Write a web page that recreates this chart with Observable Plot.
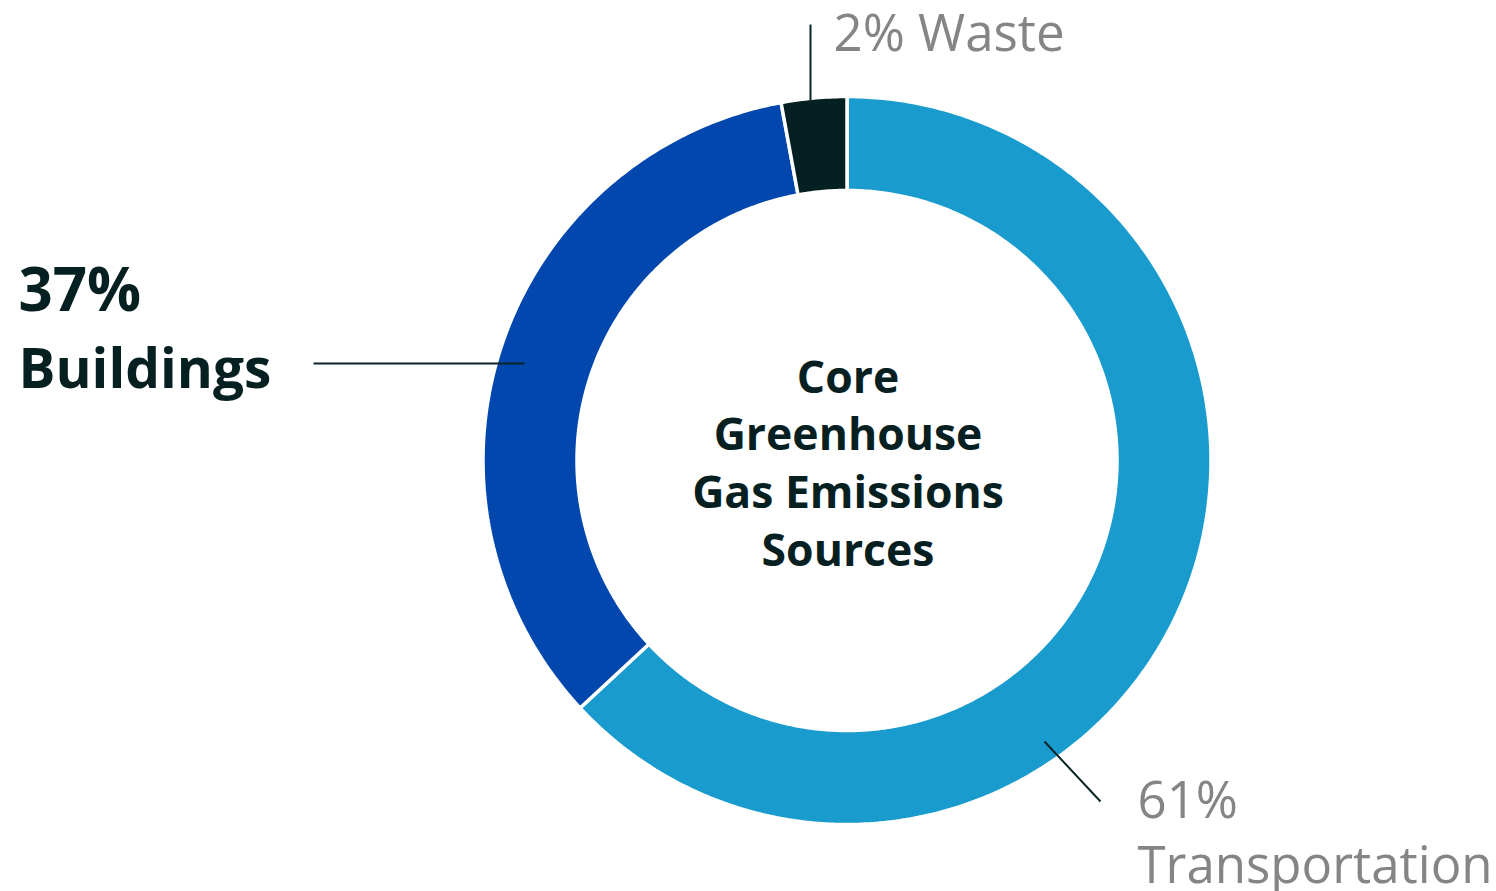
<!DOCTYPE html>
<html>
<head>
<meta charset="utf-8">
<script src="https://cdn.jsdelivr.net/npm/d3@7"></script>
<script src="https://cdn.jsdelivr.net/npm/@observablehq/plot@0.6"></script>
<style>
  html, body { margin: 0; padding: 0; background: #ffffff; }
  #chart { width: 1496px; height: 891px; overflow: hidden; }
</style>
</head>
<body>
<div id="chart"></div>
<script>
// ---- data ----
const categories = ["Transportation", "Buildings", "Waste"];
const shares = [63.1, 34.0, 2.9];            // drawn slice sizes
const labelPercents = ["61%", "37%", "2%"];  // printed labels
const colors = ["#1A9BCE", "#0247AD", "#042022"];
const centerTitle = ["Core", "Greenhouse", "Gas Emissions", "Sources"];

// ---- layout ----
const W = 1496, H = 891;
const cx = 846.5, cy = 460, R = 364, r = 270;

const pie = d3.pie().sort(null).value(d => d.value);
const arcs = pie(categories.map((c, i) => ({name: c, value: shares[i]})));

// polygon points for each ring segment (screen coordinates, angle clockwise from top)
const pt = (rad, a) => ({x: cx + rad * Math.sin(a), y: cy - rad * Math.cos(a)});
const ringPts = [];
for (const a of arcs) {
  const n = Math.max(8, Math.ceil((a.endAngle - a.startAngle) / 0.01));
  const pts = [];
  for (let k = 0; k <= n; k++) pts.push(pt(R, a.startAngle + (a.endAngle - a.startAngle) * k / n));
  for (let k = n; k >= 0; k--) pts.push(pt(r, a.startAngle + (a.endAngle - a.startAngle) * k / n));
  pts.push(pts[0]);
  for (const p of pts) ringPts.push({...p, name: a.data.name});
}

const leaders = [
  {x1: 810, y1: 24, x2: 810, y2: 100},
  {x1: 313, y1: 363, x2: 524, y2: 363},
  {x1: 1044, y1: 741, x2: 1100, y2: 801}
];

const grayLabels = [
  {text: labelPercents[2] + " " + categories[2], x: 833, y: 50},
  {text: labelPercents[0], x: 1137, y: 817},
  {text: categories[0], x: 1137, y: 882}
];
const pctLabel = [{text: labelPercents[1], x: 18, y: 310}];
const nameLabel = [{text: categories[1], x: 18, y: 387}];
const centerLines = centerTitle.map((t, i) => ({text: t, x: cx + 1, y: 392 + i * 57.7}));

const chart = Plot.plot({
  width: W, height: H,
  margin: 0,
  x: {domain: [0, W], range: [0, W], axis: null},
  y: {domain: [0, H], range: [0, H], axis: null},
  color: {domain: categories, range: colors},
  style: {background: "#ffffff", fontFamily: "'Open Sans', sans-serif"},
  marks: [
    Plot.line(ringPts, {x: "x", y: "y", z: "name", fill: "name", stroke: "#ffffff", strokeWidth: 3.5, curve: "linear", strokeLinejoin: "miter"}),
    Plot.link(leaders, {x1: "x1", y1: "y1", x2: "x2", y2: "y2", stroke: "#0a2528", strokeWidth: 2}),
    Plot.text(grayLabels, {x: "x", y: "y", text: "text", textAnchor: "start", lineAnchor: "bottom", fill: "#858585", fontSize: 51}),
    Plot.text(pctLabel, {x: "x", y: "y", text: "text", textAnchor: "start", lineAnchor: "bottom", fill: "#062022", fontSize: 60, fontWeight: "bold"}),
    Plot.text(nameLabel, {x: "x", y: "y", text: "text", textAnchor: "start", lineAnchor: "bottom", fill: "#062022", fontSize: 55, fontWeight: "bold"}),
    Plot.text(centerLines, {x: "x", y: "y", text: "text", textAnchor: "middle", lineAnchor: "bottom", fill: "#062022", fontSize: 44.5, fontWeight: "bold"})
  ]
});
document.getElementById("chart").appendChild(chart);
</script>
</body>
</html>
